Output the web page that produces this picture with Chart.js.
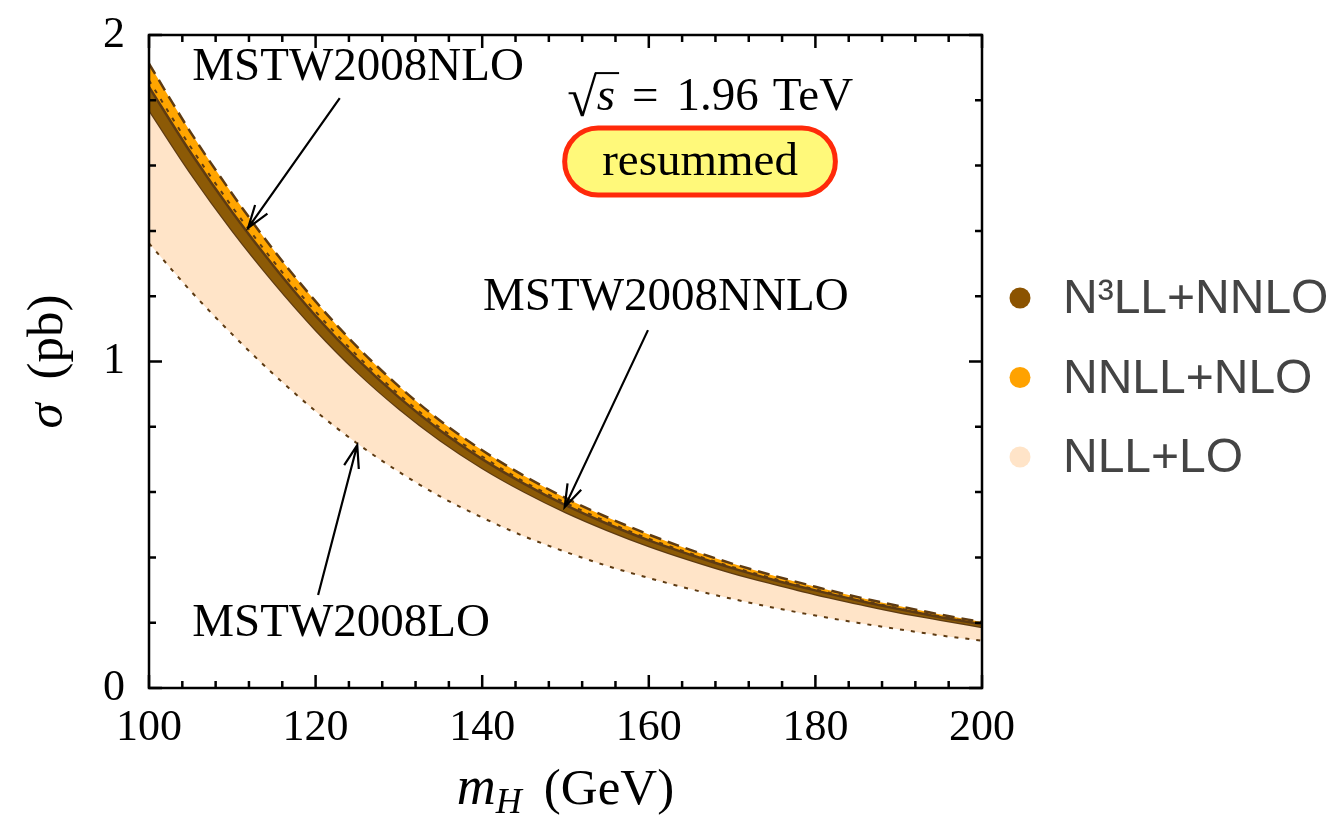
<!DOCTYPE html>
<html>
<head>
<meta charset="utf-8">
<title>Higgs cross section, Tevatron</title>
<script src="https://cdn.jsdelivr.net/npm/chart.js@4.4.1/dist/chart.umd.min.js"></script>
<style>
  html, body { margin: 0; padding: 0; background: #fff; }
  #wrap { width: 1334px; height: 817px; position: relative; }
</style>
</head>
<body>
<div id="wrap"><canvas id="xsec"></canvas></div>
<script>
// Higgs mass (GeV)
var masses = [100, 105, 110, 115, 120, 125, 130, 135, 140, 145, 150, 155, 160, 165, 170, 175, 180, 185, 190, 195, 200];

// cross section bands (pb)
var n3llUpper = [1.841, 1.640, 1.457, 1.291, 1.140, 1.007, 0.890, 0.788, 0.701, 0.626, 0.560, 0.503, 0.452, 0.408, 0.367, 0.331, 0.299, 0.269, 0.242, 0.217, 0.195];
var n3llLower = [1.771, 1.577, 1.401, 1.242, 1.097, 0.968, 0.856, 0.758, 0.674, 0.602, 0.539, 0.484, 0.435, 0.392, 0.353, 0.319, 0.287, 0.259, 0.232, 0.209, 0.187];
var nnllUpper = [1.912, 1.702, 1.513, 1.340, 1.184, 1.045, 0.924, 0.818, 0.728, 0.650, 0.582, 0.523, 0.470, 0.423, 0.381, 0.344, 0.310, 0.279, 0.251, 0.225, 0.202];
var nnllLower = [1.778, 1.583, 1.407, 1.247, 1.101, 0.972, 0.859, 0.761, 0.677, 0.604, 0.541, 0.486, 0.437, 0.394, 0.354, 0.320, 0.288, 0.260, 0.233, 0.210, 0.188];
var nllUpper  = [1.861, 1.657, 1.473, 1.305, 1.153, 1.018, 0.899, 0.796, 0.709, 0.632, 0.567, 0.509, 0.457, 0.412, 0.371, 0.335, 0.302, 0.272, 0.244, 0.219, 0.197];
var nllLower  = [1.362, 1.216, 1.083, 0.960, 0.848, 0.749, 0.662, 0.586, 0.522, 0.465, 0.417, 0.374, 0.337, 0.303, 0.273, 0.246, 0.222, 0.200, 0.180, 0.161, 0.145];

var xTickLabels = [100, 120, 140, 160, 180, 200];
var yTickLabels = [0, 1, 2];

var legendNames = ['N\u00B3LL+NNLO', 'NNLL+NLO', 'NLL+LO'];
var legendColors = ['#8b5300', '#ffa200', '#ffe4c8'];

var BROWN = '#8c5a06';
var EDGE = '#5e3b12';
var ORANGE = '#ffa500';
var PEACH = '#ffe4c8';
var SERIF = '"Liberation Serif", "DejaVu Serif", serif';

function pts(ys) {
    return masses.map(function (m, i) { return { x: m, y: ys[i] }; });
}

function curve(label, ys, extra) {
    var d = {
        label: label,
        data: pts(ys),
        pointRadius: 0,
        borderWidth: 0,
        borderColor: 'rgba(0,0,0,0)',
        fill: false,
        cubicInterpolationMode: 'monotone'
    };
    for (var k in extra) d[k] = extra[k];
    return d;
}

function arrow(ctx, x1, y1, x2, y2) {
    var a = Math.atan2(y2 - y1, x2 - x1);
    var L = 24, w = 0.32;
    ctx.beginPath();
    ctx.moveTo(x1, y1);
    ctx.lineTo(x2, y2);
    ctx.moveTo(x2 - L * Math.cos(a - w), y2 - L * Math.sin(a - w));
    ctx.lineTo(x2, y2);
    ctx.lineTo(x2 - L * Math.cos(a + w), y2 - L * Math.sin(a + w));
    ctx.stroke();
}

// draws a run of text pieces [text, font, dx, dy] left to right
function textRun(ctx, x, y, pieces) {
    pieces.forEach(function (p) {
        ctx.font = p[1];
        x += p[2] || 0;
        ctx.fillText(p[0], x, y + (p[3] || 0));
        x += ctx.measureText(p[0]).width;
    });
    return x;
}

function runWidth(ctx, pieces) {
    var w = 0;
    pieces.forEach(function (p) {
        ctx.font = p[1];
        w += (p[2] || 0) + ctx.measureText(p[0]).width;
    });
    return w;
}

var decorations = {
    id: 'decorations',
    afterDraw: function (chart) {
        var ctx = chart.ctx;
        var xs = chart.scales.x, ys = chart.scales.y;
        var area = chart.chartArea;
        var X = function (v) { return xs.getPixelForValue(v); };
        var Y = function (v) { return ys.getPixelForValue(v); };

        ctx.save();
        ctx.strokeStyle = '#000';
        ctx.lineWidth = 2.5;

        // inward ticks on all four sides
        ctx.beginPath();
        xs.ticks.forEach(function (t) {
            var px = X(t.value);
            var len = xTickLabels.indexOf(t.value) >= 0 ? 13 : 7;
            ctx.moveTo(px, area.bottom); ctx.lineTo(px, area.bottom - len);
            ctx.moveTo(px, area.top); ctx.lineTo(px, area.top + len);
        });
        ys.ticks.forEach(function (t) {
            var py = Y(t.value);
            var major = Math.abs(t.value - Math.round(t.value)) < 1e-6;
            var len = major ? 13 : 7;
            ctx.moveTo(area.left, py); ctx.lineTo(area.left + len, py);
            ctx.moveTo(area.right, py); ctx.lineTo(area.right - len, py);
        });
        ctx.stroke();
        ctx.strokeRect(area.left, area.top, area.right - area.left, area.bottom - area.top);

        // PDF set labels with arrows
        ctx.fillStyle = '#000';
        ctx.font = '47px ' + SERIF;
        ctx.textBaseline = 'alphabetic';
        ctx.textAlign = 'left';
        ctx.fillText('MSTW2008NLO', X(105.2), Y(1.862));
        ctx.fillText('MSTW2008NNLO', X(140.1), Y(1.158));
        ctx.fillText('MSTW2008LO', X(105.2), Y(0.159));

        ctx.lineWidth = 2.2;
        arrow(ctx, X(122.9), Y(1.807), X(111.9), Y(1.409));
        arrow(ctx, X(159.9), Y(1.096), X(149.9), Y(0.554));
        arrow(ctx, X(120.3), Y(0.285), X(125.0), Y(0.744));

        // sqrt(s) = 1.96 TeV
        var sx = X(150.2), sy = Y(1.770);
        var roman = '47px ' + SERIF, ital = 'italic 47px ' + SERIF;
        ctx.font = '54px ' + SERIF;
        ctx.fillText('\u221A', sx, sy + 6);
        var rw = ctx.measureText('\u221A').width;
        ctx.font = ital;
        ctx.fillText('s', sx + rw, sy);
        var sw = ctx.measureText('s').width;
        ctx.lineWidth = 2;
        ctx.beginPath();
        ctx.moveTo(sx + rw - 2, sy - 37);
        ctx.lineTo(sx + rw + sw + 4, sy - 37);
        ctx.stroke();
        textRun(ctx, sx + rw + sw, sy, [
            ['=', roman, 17],
            ['1.96', roman, 18],
            ['TeV', roman, 14]
        ]);

        // "resummed" badge
        var bx1 = X(149.9), bx2 = X(182.4), by1 = Y(1.715), by2 = Y(1.51);
        var r = (by2 - by1) / 2;
        ctx.beginPath();
        ctx.moveTo(bx1 + r, by1);
        ctx.lineTo(bx2 - r, by1);
        ctx.arc(bx2 - r, by1 + r, r, -Math.PI / 2, Math.PI / 2);
        ctx.lineTo(bx1 + r, by2);
        ctx.arc(bx1 + r, by1 + r, r, Math.PI / 2, Math.PI * 1.5);
        ctx.closePath();
        ctx.fillStyle = '#fff97a';
        ctx.fill();
        ctx.lineWidth = 5;
        ctx.strokeStyle = '#ff2a0a';
        ctx.stroke();
        ctx.fillStyle = '#000';
        ctx.textAlign = 'center';
        ctx.textBaseline = 'middle';
        ctx.font = '47px ' + SERIF;
        ctx.fillText('resummed', (bx1 + bx2) / 2, (by1 + by2) / 2 + 1);

        // axis titles
        ctx.textBaseline = 'alphabetic';
        ctx.textAlign = 'left';
        var midX = (area.left + area.right) / 2;
        var xTitle = [
            ['m', 'italic 54px ' + SERIF, 0, 0],
            ['H', 'italic 36px ' + SERIF, 0, 9],
            ['(GeV)', '51px ' + SERIF, 22, 0]
        ];
        textRun(ctx, midX - runWidth(ctx, xTitle) / 2, 804, xTitle);

        ctx.save();
        ctx.translate(62, (area.top + area.bottom) / 2);
        ctx.rotate(-Math.PI / 2);
        var yTitle = [
            ['\u03C3', 'italic 51px ' + SERIF, 0, 0],
            ['(pb)', '51px ' + SERIF, 24, 0]
        ];
        textRun(ctx, -runWidth(ctx, yTitle) / 2, 0, yTitle);
        ctx.restore();

        // legend
        ctx.textBaseline = 'middle';
        ctx.font = '48px "Liberation Sans", Arimo, sans-serif';
        legendNames.forEach(function (name, i) {
            var ly = 298 + i * 79.5;
            ctx.beginPath();
            ctx.arc(1020, ly, 10.5, 0, Math.PI * 2);
            ctx.fillStyle = legendColors[i];
            ctx.fill();
            ctx.fillStyle = '#444';
            ctx.fillText(name, 1063, ly + 2);
        });

        ctx.restore();
    }
};

var chart = new Chart(document.getElementById('xsec'), {
    type: 'line',
    data: {
        datasets: [
            curve('nll upper edge', nllUpper, { borderWidth: 2, borderColor: EDGE, borderDash: [4, 7] }),
            curve('nnll upper edge', nnllUpper, { borderWidth: 2.5, borderColor: EDGE, borderDash: [12, 7] }),
            curve('nll lower edge', nllLower, { borderWidth: 2, borderColor: EDGE, borderDash: [4, 7] }),
            curve('N3LL+NNLO', n3llUpper, { borderWidth: 2.5, borderColor: EDGE, fill: '+1', backgroundColor: BROWN }),
            curve('n3ll lower', n3llLower, { borderWidth: 2.5, borderColor: EDGE }),
            curve('NNLL+NLO', nnllUpper, { fill: '+1', backgroundColor: ORANGE }),
            curve('nnll lower', nnllLower, {}),
            curve('NLL+LO', nnllUpper, { fill: '+1', backgroundColor: PEACH }),
            curve('nll lower', nllLower, {})
        ]
    },
    options: {
        responsive: true,
        maintainAspectRatio: false,
        animation: false,
        layout: { padding: { top: 35, right: 352, left: 0, bottom: 0 } },
        plugins: {
            legend: { display: false },
            tooltip: { enabled: false }
        },
        scales: {
            x: {
                type: 'linear',
                min: 100,
                max: 200,
                grid: { display: false, drawTicks: false },
                border: { display: false },
                ticks: {
                    stepSize: 4,
                    autoSkip: false,
                    maxRotation: 0,
                    padding: 14,
                    color: '#000',
                    font: { family: SERIF, size: 44 },
                    callback: function (v) { return xTickLabels.indexOf(v) >= 0 ? String(v) : ''; }
                },
                afterFit: function (s) {
                    s.height = 129;
                    s.paddingLeft = 0;
                    s.paddingRight = 0;
                }
            },
            y: {
                type: 'linear',
                min: 0,
                max: 2,
                grid: { display: false, drawTicks: false },
                border: { display: false },
                ticks: {
                    stepSize: 0.2,
                    autoSkip: false,
                    padding: 24,
                    color: '#000',
                    font: { family: SERIF, size: 44 },
                    callback: function (v) {
                        var r = Math.round(v);
                        return (Math.abs(v - r) < 1e-6 && yTickLabels.indexOf(r) >= 0) ? String(r) : '';
                    }
                },
                afterFit: function (s) {
                    s.width = 149;
                    s.paddingTop = 0;
                    s.paddingBottom = 0;
                }
            }
        }
    },
    plugins: [decorations]
});
</script>
</body>
</html>
